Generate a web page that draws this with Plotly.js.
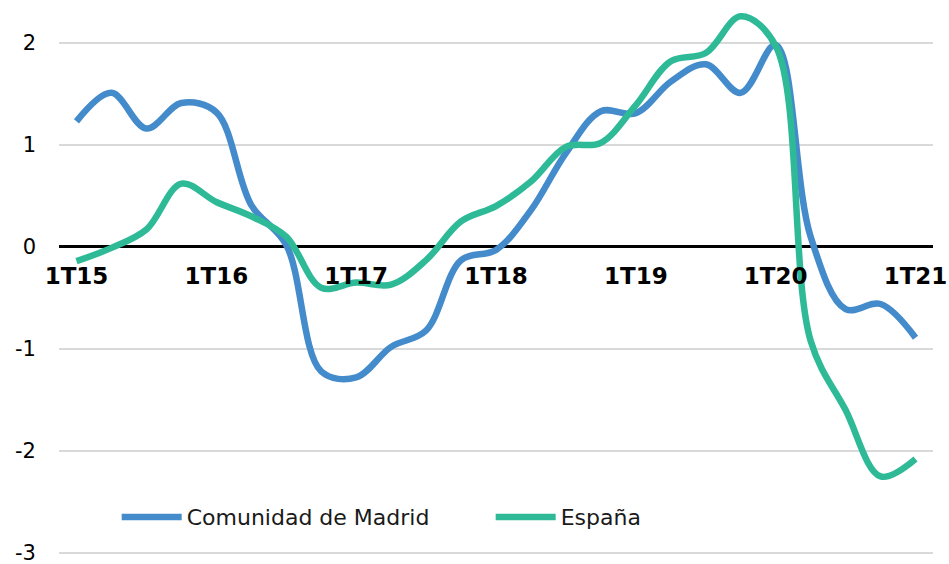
<!DOCTYPE html>
<html>
<head>
<meta charset="utf-8">
<script src="https://cdn.plot.ly/plotly-3.0.1.min.js"></script>
<style>html,body{margin:0;padding:0;background:#fff;}#chart{width:949px;height:564px;}</style>
</head>
<body>
<div id="chart"></div>
<script>
const quarters = ["1T15","2T15","3T15","4T15","1T16","2T16","3T16","4T16","1T17","2T17","3T17","4T17","1T18","2T18","3T18","4T18","1T19","2T19","3T19","4T19","1T20","2T20","3T20","4T20","1T21"];
const tickLabels = ["1T15","1T16","1T17","1T18","1T19","1T20","1T21"];
const madrid = [1.23,1.51,1.16,1.41,1.32,0.41,0.02,-1.22,-1.28,-0.98,-0.82,-0.13,-0.03,0.36,0.92,1.33,1.31,1.62,1.79,1.51,1.98,0.10,-0.61,-0.56,-0.89];
const espana = [-0.14,-0.01,0.17,0.62,0.44,0.30,0.10,-0.40,-0.35,-0.37,-0.13,0.25,0.40,0.64,0.98,1.02,1.39,1.82,1.90,2.26,1.97,-0.92,-1.60,-2.25,-2.08];
const seriesNames = ["Comunidad de Madrid","España"];
const yTicks = [-3,-2,-1,0,1,2];
const yTickText = ["-3","-2","-1","0","1","2"];

const yMin = -3.03, yMax = 2.42;
const traces = [
  {x: quarters, y: madrid, name: seriesNames[0], type: 'scatter', mode: 'lines',
   line: {color: '#448BCB', width: 6.5, shape: 'spline', smoothing: 1}},
  {x: quarters, y: espana, name: seriesNames[1], type: 'scatter', mode: 'lines',
   line: {color: '#2EBA96', width: 6.5, shape: 'spline', smoothing: 1}}
];
const layout = {
  width: 949, height: 564,
  margin: {l: 59, r: 16, t: 0, b: 8},
  paper_bgcolor: '#fff', plot_bgcolor: '#fff',
  font: {family: 'DejaVu Sans, Verdana, sans-serif', color: '#000'},
  showlegend: true,
  legend: {orientation: 'h', x: 0.066, y: 0.07, xanchor: 'left', yanchor: 'middle',
    font: {size: 22, color: '#1a1a1a'}, itemwidth: 60, entrywidth: 299, entrywidthmode: 'pixels',
    bgcolor: 'rgba(0,0,0,0)'},
  xaxis: {
    type: 'category', range: [-0.5, 24.5],
    tickvals: tickLabels, ticktext: tickLabels,
    tickfont: {size: 23, color: '#000', family: 'DejaVu Sans, Verdana, sans-serif', weight: 'bold'},
    showgrid: false, zeroline: false, showline: false,
    anchor: 'free', position: (0 - yMin) / (yMax - yMin),
    ticks: '', ticklabelstandoff: 13
  },
  yaxis: {
    range: [yMin, yMax], tickvals: yTicks, ticktext: yTickText,
    tickfont: {size: 21, color: '#000'},
    showgrid: true, gridcolor: '#d9d9d9', gridwidth: 1.5,
    zeroline: true, zerolinecolor: '#000', zerolinewidth: 3,
    showline: false, ticks: '', ticklabelstandoff: 22,
    ticklabeloverflow: 'allow'
  }
};
Plotly.newPlot('chart', traces, layout, {displayModeBar: false, staticPlot: true});
</script>
</body>
</html>
